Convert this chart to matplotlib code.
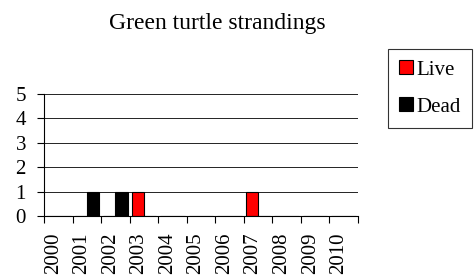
import matplotlib.pyplot as plt
import matplotlib.transforms as mtransforms
import numpy as np

years = ['2000', '2001', '2002', '2003', '2004', '2005', '2006', '2007', '2008', '2009', '2010']
live = [0, 0, 0, 1, 0, 0, 0, 1, 0, 0, 0]
dead = [0, 1, 1, 0, 0, 0, 0, 0, 0, 0, 0]

plt.rcParams['font.family'] = 'Liberation Serif'

fig = plt.figure(figsize=(4.75, 2.8), dpi=100)
ax = fig.add_axes([44/475, 64/280, 314/475, 122/280])

x = np.arange(len(years))
w = 0.43
ax.bar(x - w/2, live, w, color='#ff0000', edgecolor='black', linewidth=0.8, label='Live')
ax.bar(x + w/2, dead, w, color='black', edgecolor='black', linewidth=0.8, label='Dead')

ax.set_xlim(-0.5, len(years) - 0.5)
ax.set_ylim(0, 5)
ax.set_yticks(range(6))
ax.yaxis.grid(True, color='black', linewidth=0.6)
ax.set_axisbelow(True)

ax.set_xticks(x)
ax.set_xticklabels(years, rotation=90, fontsize=15)
ax.set_xticks(np.arange(-0.5, len(years)), minor=True)
ax.tick_params(axis='x', which='major', length=0, pad=12)
ax.tick_params(axis='x', which='minor', length=5, width=0.8)
ax.tick_params(axis='y', length=5, width=0.8, labelsize=15, pad=8)

# shift year labels a little to the left, like the original
shift = mtransforms.ScaledTranslation(-5/100, 0, fig.dpi_scale_trans)
for lab in ax.get_xticklabels():
    lab.set_transform(lab.get_transform() + shift)

for s in ['top', 'right']:
    ax.spines[s].set_visible(False)
ax.spines['left'].set_linewidth(0.8)
ax.spines['bottom'].set_linewidth(0.8)

fig.text(217/475, 1 - 23/280, 'Green turtle strandings', ha='center', va='center', fontsize=17)

leg = fig.legend(loc='upper left', bbox_to_anchor=(388/475, 1 - 49/280), fontsize=15,
                 frameon=True, fancybox=False, edgecolor='black', handlelength=0.65,
                 handleheight=0.65, handletextpad=0.15, borderpad=0.55, labelspacing=0.85,
                 borderaxespad=0)
leg.get_frame().set_linewidth(0.8)

plt.savefig('out.png', dpi=100, facecolor='white')
